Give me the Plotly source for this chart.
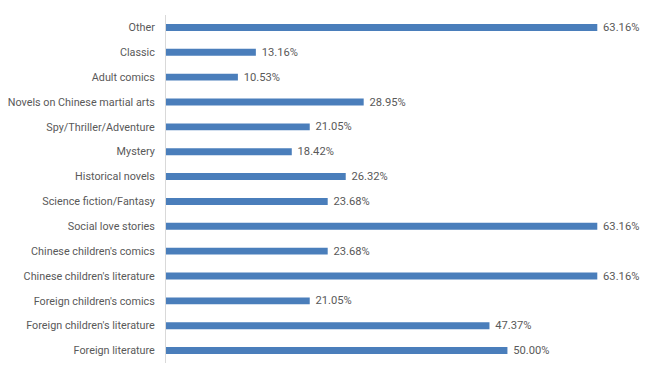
import plotly.graph_objects as go

categories = [
    "Foreign literature",
    "Foreign children's literature",
    "Foreign children's comics",
    "Chinese children's literature",
    "Chinese children's comics",
    "Social love stories",
    "Science fiction/Fantasy",
    "Historical novels",
    "Mystery",
    "Spy/Thriller/Adventure",
    "Novels on Chinese martial arts",
    "Adult comics",
    "Classic",
    "Other",
]
values = [50.00, 47.37, 21.05, 63.16, 23.68, 63.16, 23.68, 26.32, 18.42, 21.05, 28.95, 10.53, 13.16, 63.16]

FONT = "Roboto"
FS = 10.8

fig = go.Figure(
    go.Bar(
        y=categories,
        x=values,
        orientation="h",
        marker=dict(color="#4A7EBB", line=dict(width=0)),
        width=0.28,
        text=[f"\u00a0{v:.2f}%" for v in values],
        textposition="outside",
        constraintext="none",
        textfont=dict(family=FONT, size=11.2, color="#595959"),
        cliponaxis=False,
    )
)

fig.update_layout(
    width=658,
    height=379,
    margin=dict(l=158, r=22, t=7, b=24),
    paper_bgcolor="white",
    plot_bgcolor="white",
    showlegend=False,
    font=dict(family=FONT, size=FS, color="#595959"),
    xaxis=dict(
        range=[0, 70],
        showticklabels=False,
        showgrid=False,
        zeroline=False,
        showline=False,
        ticks="",
        automargin=False,
    ),
    yaxis=dict(
        showline=True,
        linecolor="#D9D9D9",
        linewidth=1,
        ticks="",
        showgrid=False,
        automargin=False,
        ticklabelstandoff=8,
        tickfont=dict(family=FONT, size=FS, color="#595959"),
        range=[-0.5, 13.5],
    ),
)

fig.write_html("out.html")
